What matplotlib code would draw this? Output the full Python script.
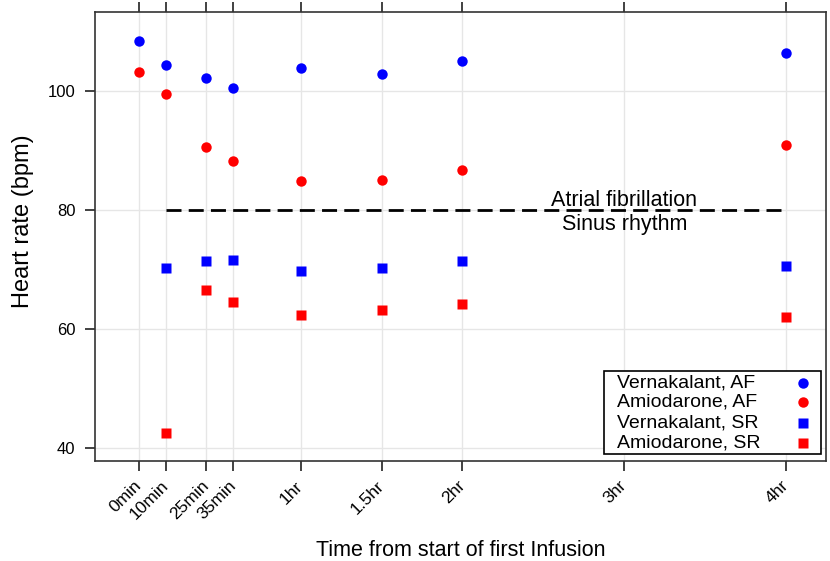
import matplotlib
matplotlib.use("Agg")
import matplotlib.pyplot as plt
from matplotlib.patches import Rectangle

plt.rcParams['font.family'] = ['Liberation Sans', 'DejaVu Sans']

times = [0, 10, 25, 35, 60, 90, 120, 180, 240]
tick_labels = ["0min", "10min", "25min", "35min", "1hr", "1.5hr", "2hr", "3hr", "4hr"]

t_af = [0, 10, 25, 35, 60, 90, 120, 240]
vern_af = [108.4, 104.4, 102.2, 100.5, 103.9, 102.9, 105.0, 106.4]
amio_af = [103.2, 99.5, 90.6, 88.2, 84.9, 85.0, 86.7, 90.9]

t_sr = [10, 25, 35, 60, 90, 120, 240]
vern_sr = [70.3, 71.4, 71.6, 69.7, 70.3, 71.4, 70.6]
amio_sr = [42.5, 66.6, 64.5, 62.4, 63.2, 64.2, 62.0]

y_ticks = [40, 60, 80, 100]
threshold = 80
threshold_span = [10, 240]

series_labels = ["Vernakalant, AF", "Amiodarone, AF", "Vernakalant, SR", "Amiodarone, SR"]
series_colors = ['#0000ff', '#ff0000', '#0000ff', '#ff0000']
series_markers = ['o', 'o', 's', 's']

fig = plt.figure(figsize=(8.3, 5.61), dpi=100)
ax = fig.add_axes([0.1145, 0.1783, 0.8805, 0.8003])

for t in times:
    ax.axvline(t, color="#e6e6e6", lw=1, zorder=0)
for y in y_ticks:
    ax.axhline(y, color="#e6e6e6", lw=1, zorder=0)

ms = 7.5
ax.plot(t_af, vern_af, series_markers[0], color=series_colors[0], ms=ms, mec='none', zorder=3)
ax.plot(t_af, amio_af, series_markers[1], color=series_colors[1], ms=ms, mec='none', zorder=3)
ax.plot(t_sr, vern_sr, series_markers[2], color=series_colors[2], ms=ms - 0.3, mec='none', zorder=3)
ax.plot(t_sr, amio_sr, series_markers[3], color=series_colors[3], ms=ms - 0.3, mec='none', zorder=3)

ax.plot(threshold_span, [threshold, threshold], color='black', lw=2, ls=(0, (5.4, 2.6)), zorder=2)
ax.text(180, threshold + 0.6, "Atrial fibrillation", ha='center', va='baseline', fontsize=15.5)
ax.text(180, threshold - 0.7, "Sinus rhythm", ha='center', va='top', fontsize=15.5)

ax.set_xlim(-16.3, 254.8)
ax.set_ylim(37.8, 113.3)
ax.set_xticks(times)
ax.set_xticklabels(tick_labels, rotation=45, ha='right', va='center',
                   rotation_mode='anchor', fontsize=12.5)
ax.set_yticks(y_ticks)
ax.set_yticklabels([str(v) for v in y_ticks], fontsize=12)
ax.tick_params(axis='x', top=True, bottom=True, direction='out', length=7.2, width=1.3, color='#333333', pad=9)
ax.tick_params(axis='y', left=True, right=False, direction='out', length=7.2, width=1.3, color='#333333', pad=7)
for s in ax.spines.values():
    s.set_color('#333333')
    s.set_linewidth(1.2)

ax.set_xlabel("Time from start of first Infusion", fontsize=15.5)
ax.xaxis.set_label_coords(0.5, -0.176)
ax.set_ylabel("Heart rate (bpm)", fontsize=17)
ax.yaxis.set_label_coords(-0.084, 0.5345)

# legend box (manual, left-aligned labels with symbols on the right)
box_x0, box_y0, box_x1, box_y1 = 0.696, 0.0156, 0.993, 0.2004
ax.add_patch(Rectangle((box_x0, box_y0), box_x1 - box_x0, box_y1 - box_y0,
                       transform=ax.transAxes, facecolor='white', edgecolor='black',
                       lw=1.2, zorder=5))
row_y = [0.1737, 0.1314, 0.0846, 0.0401]
for lab, col, mk, yy in zip(series_labels, series_colors, series_markers, row_y):
    ax.text(0.714, yy, lab, transform=ax.transAxes, ha='left', va='center',
            fontsize=14, zorder=6)
    ax.plot([0.9685], [yy], mk, color=col, mec='none', ms=ms if mk == 'o' else ms - 0.3,
            transform=ax.transAxes, zorder=6, clip_on=False)

fig.savefig("out.png", dpi=100)
